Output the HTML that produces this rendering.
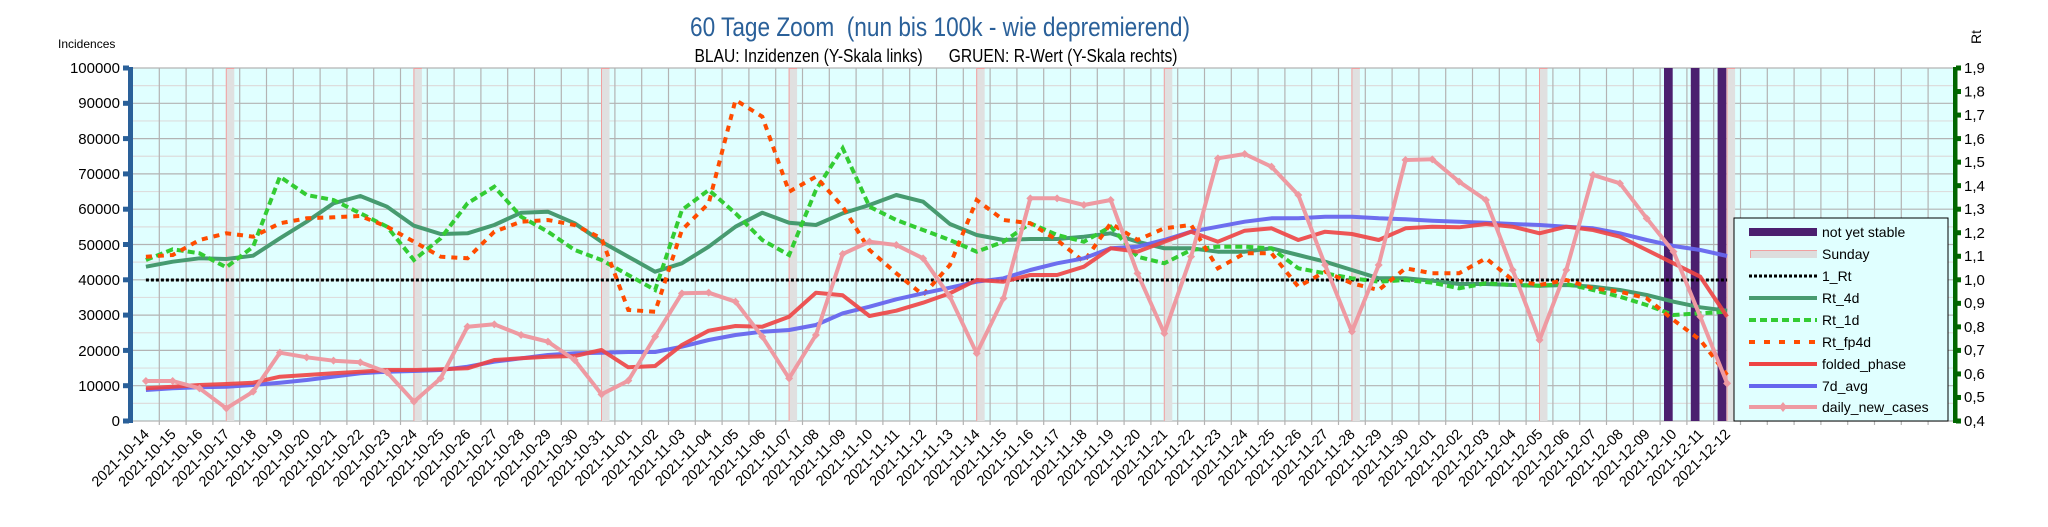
<!DOCTYPE html>
<html><head><meta charset="utf-8">
<style>
html,body{margin:0;padding:0;background:#fff;}
svg{display:block;font-family:"Liberation Sans",sans-serif;}
</style></head>
<body>
<svg id="s" width="2048" height="527" viewBox="0 0 2048 527" xmlns="http://www.w3.org/2000/svg">
<rect x="0" y="0" width="2048" height="527" fill="#fff"/>
<text x="940" y="36" text-anchor="middle" font-size="27" fill="#2a6099" textLength="500" lengthAdjust="spacingAndGlyphs">60 Tage Zoom &#160;(nun bis 100k - wie depremierend)</text>
<text x="936" y="62" text-anchor="middle" font-size="18" fill="#000" textLength="483" lengthAdjust="spacingAndGlyphs">BLAU: Inzidenzen (Y-Skala links) &#160; &#160; &#160;GRUEN: R-Wert (Y-Skala rechts)</text>
<text x="58" y="48" font-size="12" fill="#000">Incidences</text>
<text transform="translate(1981,44) rotate(-90)" font-size="14" fill="#000">Rt</text>
<rect x="132.5" y="68" width="1821" height="353" fill="#e0ffff"/>
<g id="grid"></g>
<g id="bars"></g>
<g id="series"></g>
<rect x="128" y="67" width="5" height="356" fill="#2a6099"/>
<g id="lt" fill="#2a6099"></g>
<g font-size="15" fill="#000" text-anchor="end">
<text x="120" y="73">100000</text><text x="120" y="108">90000</text><text x="120" y="144">80000</text><text x="120" y="179">70000</text><text x="120" y="214">60000</text><text x="120" y="250">50000</text><text x="120" y="285">40000</text><text x="120" y="320">30000</text><text x="120" y="356">20000</text><text x="120" y="391">10000</text><text x="120" y="426">0</text>
</g>
<rect x="1953" y="67" width="4.5" height="356" fill="#006600"/>
<g id="rt" fill="#006600"></g>
<g font-size="15" fill="#000">
<text x="1964" y="73">1,9</text><text x="1964" y="96.5">1,8</text><text x="1964" y="120">1,7</text><text x="1964" y="144">1,6</text><text x="1964" y="167">1,5</text><text x="1964" y="191">1,4</text><text x="1964" y="214">1,3</text><text x="1964" y="238">1,2</text><text x="1964" y="261">1,1</text><text x="1964" y="285">1,0</text><text x="1964" y="308">0,9</text><text x="1964" y="332">0,8</text><text x="1964" y="355">0,7</text><text x="1964" y="379">0,6</text><text x="1964" y="402">0,5</text><text x="1964" y="426">0,4</text>
</g>
<g id="xl" font-size="14.5" fill="#000" text-anchor="end">
<text>2021-10-14</text><text>2021-10-15</text><text>2021-10-16</text><text>2021-10-17</text><text>2021-10-18</text><text>2021-10-19</text><text>2021-10-20</text><text>2021-10-21</text><text>2021-10-22</text><text>2021-10-23</text><text>2021-10-24</text><text>2021-10-25</text><text>2021-10-26</text><text>2021-10-27</text><text>2021-10-28</text><text>2021-10-29</text><text>2021-10-30</text><text>2021-10-31</text><text>2021-11-01</text><text>2021-11-02</text><text>2021-11-03</text><text>2021-11-04</text><text>2021-11-05</text><text>2021-11-06</text><text>2021-11-07</text><text>2021-11-08</text><text>2021-11-09</text><text>2021-11-10</text><text>2021-11-11</text><text>2021-11-12</text><text>2021-11-13</text><text>2021-11-14</text><text>2021-11-15</text><text>2021-11-16</text><text>2021-11-17</text><text>2021-11-18</text><text>2021-11-19</text><text>2021-11-20</text><text>2021-11-21</text><text>2021-11-22</text><text>2021-11-23</text><text>2021-11-24</text><text>2021-11-25</text><text>2021-11-26</text><text>2021-11-27</text><text>2021-11-28</text><text>2021-11-29</text><text>2021-11-30</text><text>2021-12-01</text><text>2021-12-02</text><text>2021-12-03</text><text>2021-12-04</text><text>2021-12-05</text><text>2021-12-06</text><text>2021-12-07</text><text>2021-12-08</text><text>2021-12-09</text><text>2021-12-10</text><text>2021-12-11</text><text>2021-12-12</text>
</g>
<rect x="1734" y="218" width="214" height="203" fill="#e0ffff" stroke="#000" stroke-width="1"/>
<rect x="1749" y="228" width="68" height="8" fill="#4b1f6f"/>
<rect x="1750" y="250" width="67" height="8" fill="#dddddd"/><path d="M1750.5 258V250.5H1817" stroke="#f0a0a0" fill="none"/>
<line x1="1749" y1="276" x2="1817" y2="276" stroke="#000" stroke-width="3" stroke-dasharray="3,2"/>
<line x1="1749" y1="298" x2="1817" y2="298" stroke="#479b70" stroke-width="4"/>
<line x1="1749" y1="320" x2="1817" y2="320" stroke="#33cc33" stroke-width="4" stroke-dasharray="7,4"/>
<line x1="1749" y1="342" x2="1817" y2="342" stroke="#ff4c00" stroke-width="4" stroke-dasharray="6,9"/>
<line x1="1749" y1="364" x2="1817" y2="364" stroke="#ee4444" stroke-width="4"/>
<line x1="1749" y1="386" x2="1817" y2="386" stroke="#6666ee" stroke-width="4"/>
<line x1="1749" y1="407" x2="1817" y2="407" stroke="#ee9aa2" stroke-width="4"/>
<path d="M1783 402L1787 407L1783 412L1779 407Z" fill="#ee9aa2"/>
<g font-size="14" fill="#000">
<text x="1822" y="237">not yet stable</text><text x="1822" y="259">Sunday</text><text x="1822" y="281">1_Rt</text><text x="1822" y="303">Rt_4d</text><text x="1822" y="325">Rt_1d</text><text x="1822" y="347">Rt_fp4d</text><text x="1822" y="369">folded_phase</text><text x="1822" y="391">7d_avg</text><text x="1822" y="412">daily_new_cases</text>
</g>
</svg>
<script>
(function(){
var NS="http://www.w3.org/2000/svg";
function el(p,n,a){var e=document.createElementNS(NS,n);for(var k in a)e.setAttribute(k,a[k]);p.appendChild(e);return e;}
var L=132.5,W=26.8,T=68,B=421;
var g=document.getElementById('grid');
for(var k=1;k<=20;k++){var y=T+k*17.65;if(k%2==1)el(g,'line',{x1:L,x2:1954,y1:y,y2:y,stroke:'#dddddd','stroke-width':1.2});}
for(var k=0;k<=10;k++){var y=T+k*35.3;el(g,'line',{x1:L,x2:1954,y1:y,y2:y,stroke:'#b3b3b3','stroke-width':1.2});}
for(var k=1;k<=67;k++){var x=L+k*W;el(g,'line',{x1:x,x2:x,y1:T,y2:B+4,stroke:'#b3b3b3','stroke-width':1.2});}
var lt=document.getElementById('lt');for(var k=0;k<=10;k++){el(lt,'rect',{x:123,y:T+k*35.3-2.5,width:6,height:5});}
var rt=document.getElementById('rt');for(var k=0;k<=15;k++){el(rt,'rect',{x:1956,y:T+k*23.533-2.5,width:5,height:5});}
function X(i){return 145.9+W*i;}
var b=document.getElementById('bars');
[3,10,17,24,31,38,45,52,59].forEach(function(i){var c=X(i);el(b,'rect',{x:c-0.5,y:T,width:8.5,height:B-T,fill:'#e0e0e0'});el(b,'path',{d:'M'+(c)+' '+B+'V'+(T+0.5)+'H'+(c+8),stroke:'#f0a0a0',fill:'none','stroke-width':1});});
[57,58,59].forEach(function(i){var c=X(i);el(b,'rect',{x:c-9.5,y:T,width:8.7,height:B-T,fill:'#4b1f6f'});});
var S={
r4:[620,605,595,597,587,535,485,430,408,440,497,522,520,495,458,455,490,545,590,635,610,560,500,458,488,495,460,435,405,425,492,525,540,537,537,530,520,545,565,565,575,575,565,585,605,630,655,655,662,672,672,675,677,675,680,690,705,725,742,752],
r1:[600,568,580,622,560,350,405,420,460,500,600,535,430,380,470,515,570,600,645,690,450,390,460,540,585,390,265,440,480,510,540,575,545,490,525,545,500,590,610,570,560,560,565,625,640,655,665,660,668,685,670,675,677,672,690,710,735,765,760,755],
fp:[590,585,540,520,530,490,475,472,468,500,545,590,595,515,485,480,495,535,750,755,510,430,120,170,395,350,440,570,640,705,615,420,480,490,540,605,490,540,505,495,625,580,580,680,635,670,690,625,640,640,595,660,675,660,685,695,715,780,840,945],
fo:[985,980,975,972,968,950,945,940,935,930,930,928,925,900,895,890,888,870,922,918,855,812,798,800,770,698,706,768,752,728,700,660,665,645,645,620,565,575,545,515,545,512,505,540,515,522,540,505,500,502,492,500,520,500,510,530,570,610,650,770],
bl:[990,985,982,980,975,968,960,950,940,935,933,930,920,905,895,885,880,878,876,876,860,840,825,815,810,795,760,740,718,700,683,665,655,630,610,595,565,560,540,515,500,485,475,475,470,470,475,478,482,485,488,492,495,500,505,520,540,558,570,588],
pk:[963,963,985,1045,995,878,892,902,907,937,1025,955,800,793,825,845,900,1003,962,830,700,698,725,830,955,825,582,545,555,595,710,880,715,415,415,435,420,640,820,590,295,282,320,405,615,815,615,300,298,365,420,630,840,630,345,370,475,575,770,970]};
function pts(a){return a.map(function(v,i){return X(i).toFixed(1)+','+(60+v/3).toFixed(1);}).join(' ');}
var sg=document.getElementById('series');
el(sg,'line',{x1:X(0),x2:X(59),y1:280,y2:280,stroke:'#000','stroke-width':3,'stroke-dasharray':'3,2'});
el(sg,'polyline',{points:pts(S.r4),fill:'none',stroke:'#479b70','stroke-width':4,'stroke-linejoin':'round'});
el(sg,'polyline',{points:pts(S.r1),fill:'none',stroke:'#33cc33','stroke-width':4,'stroke-dasharray':'7,4'});
el(sg,'polyline',{points:pts(S.fp),fill:'none',stroke:'#ff4c00','stroke-width':4,'stroke-dasharray':'6,6'});
el(sg,'polyline',{points:pts(S.bl),fill:'none',stroke:'#6666ee','stroke-width':4,'stroke-linejoin':'round','stroke-opacity':0.95});
el(sg,'polyline',{points:pts(S.fo),fill:'none',stroke:'#ee4444','stroke-width':4,'stroke-linejoin':'round','stroke-opacity':0.9});
el(sg,'polyline',{points:pts(S.pk),fill:'none',stroke:'#ee9aa2','stroke-width':4,'stroke-linejoin':'round'});
S.pk.forEach(function(v,i){var x=X(i),y=60+v/3;el(sg,'path',{d:'M'+x+' '+(y-4)+'L'+(x+4)+' '+y+'L'+x+' '+(y+4)+'L'+(x-4)+' '+y+'Z',fill:'#ee9aa2'});});
var xl=document.getElementById('xl').children;
for(var i=0;i<xl.length;i++){xl[i].setAttribute('transform','translate('+(X(i)+4)+',435) rotate(-45)');}
})();
</script>
</body></html>
